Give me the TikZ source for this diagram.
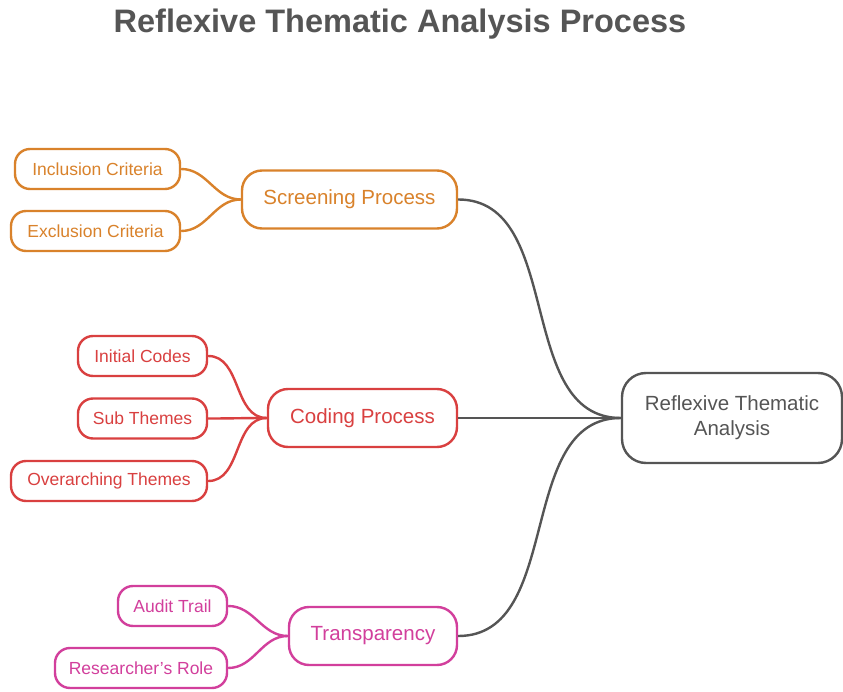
\documentclass[tikz,border=0pt]{standalone}
\usepackage{fontspec}
\setmainfont{Liberation Sans}
\usetikzlibrary{positioning}
\definecolor{scrcol}{HTML}{D9822B}
\definecolor{codcol}{HTML}{D94040}
\definecolor{trncol}{HTML}{D23F9C}
\definecolor{rtacol}{HTML}{555555}

\begin{document}
\begin{tikzpicture}[x=1pt,y=-1pt,
    branch/.style={draw,line width=2.4pt,fill=white,rounded corners=20pt,minimum height=58pt,
      font=\fontsize{20.5}{24}\selectfont},
    leaf/.style={draw,line width=2.4pt,fill=white,rounded corners=15pt,minimum height=40pt,
      font=\fontsize{17.5}{20}\selectfont},
    link/.style={line width=2.4pt,out=0,in=180}]
        \useasboundingbox (0,0) rectangle (843,692);

        \node[font=\bfseries\fontsize{32.5}{36}\selectfont,text=rtacol] (title) at (400,24) {Reflexive Thematic Analysis Process};

        % root
        \node[branch,draw=rtacol,text=rtacol,minimum width=220pt,minimum height=90pt,rounded corners=24pt,
          align=center,font=\fontsize{20.5}{25}\selectfont] (rta) at (732,418) {Reflexive Thematic\\Analysis};

        % branches
        \node[branch,draw=scrcol,text=scrcol,minimum width=215pt] (scr) at (349.5,199.5) {Screening Process};
        \node[branch,draw=codcol,text=codcol,minimum width=189pt] (cod) at (362.5,418) {Coding Process};
        \node[branch,draw=trncol,text=trncol,minimum width=168pt] (trn) at (373,636) {Transparency};

        % leaves
        \node[leaf,draw=scrcol,text=scrcol,minimum width=165pt] (inc) at (97.5,169) {Inclusion Criteria};
        \node[leaf,draw=scrcol,text=scrcol,minimum width=169pt] (exc) at (95.5,231) {Exclusion Criteria};
        \node[leaf,draw=codcol,text=codcol,minimum width=129pt] (ini) at (142.5,356) {Initial Codes};
        \node[leaf,draw=codcol,text=codcol,minimum width=129pt] (sub) at (142.5,418.5) {Sub Themes};
        \node[leaf,draw=codcol,text=codcol,minimum width=196pt] (ovr) at (109,481) {Overarching Themes};
        \node[leaf,draw=trncol,text=trncol,minimum width=109pt] (aud) at (172.5,606) {Audit Trail};
        \node[leaf,draw=trncol,text=trncol,minimum width=172pt] (res) at (141,668) {Researcher's Role};

        \draw[link,rtacol] (scr.east) to (rta.west);
        \draw[link,rtacol] (cod.east) to (rta.west);
        \draw[link,rtacol] (trn.east) to (rta.west);
        \draw[link,scrcol] (inc.east) to (scr.west);
        \draw[link,scrcol] (exc.east) to (scr.west);
        \draw[link,codcol] (ini.east) to (cod.west);
        \draw[link,codcol] (sub.east) to (cod.west);
        \draw[link,codcol] (ovr.east) to (cod.west);
        \draw[link,trncol] (aud.east) to (trn.west);
        \draw[link,trncol] (res.east) to (trn.west);
\end{tikzpicture}
\end{document}
